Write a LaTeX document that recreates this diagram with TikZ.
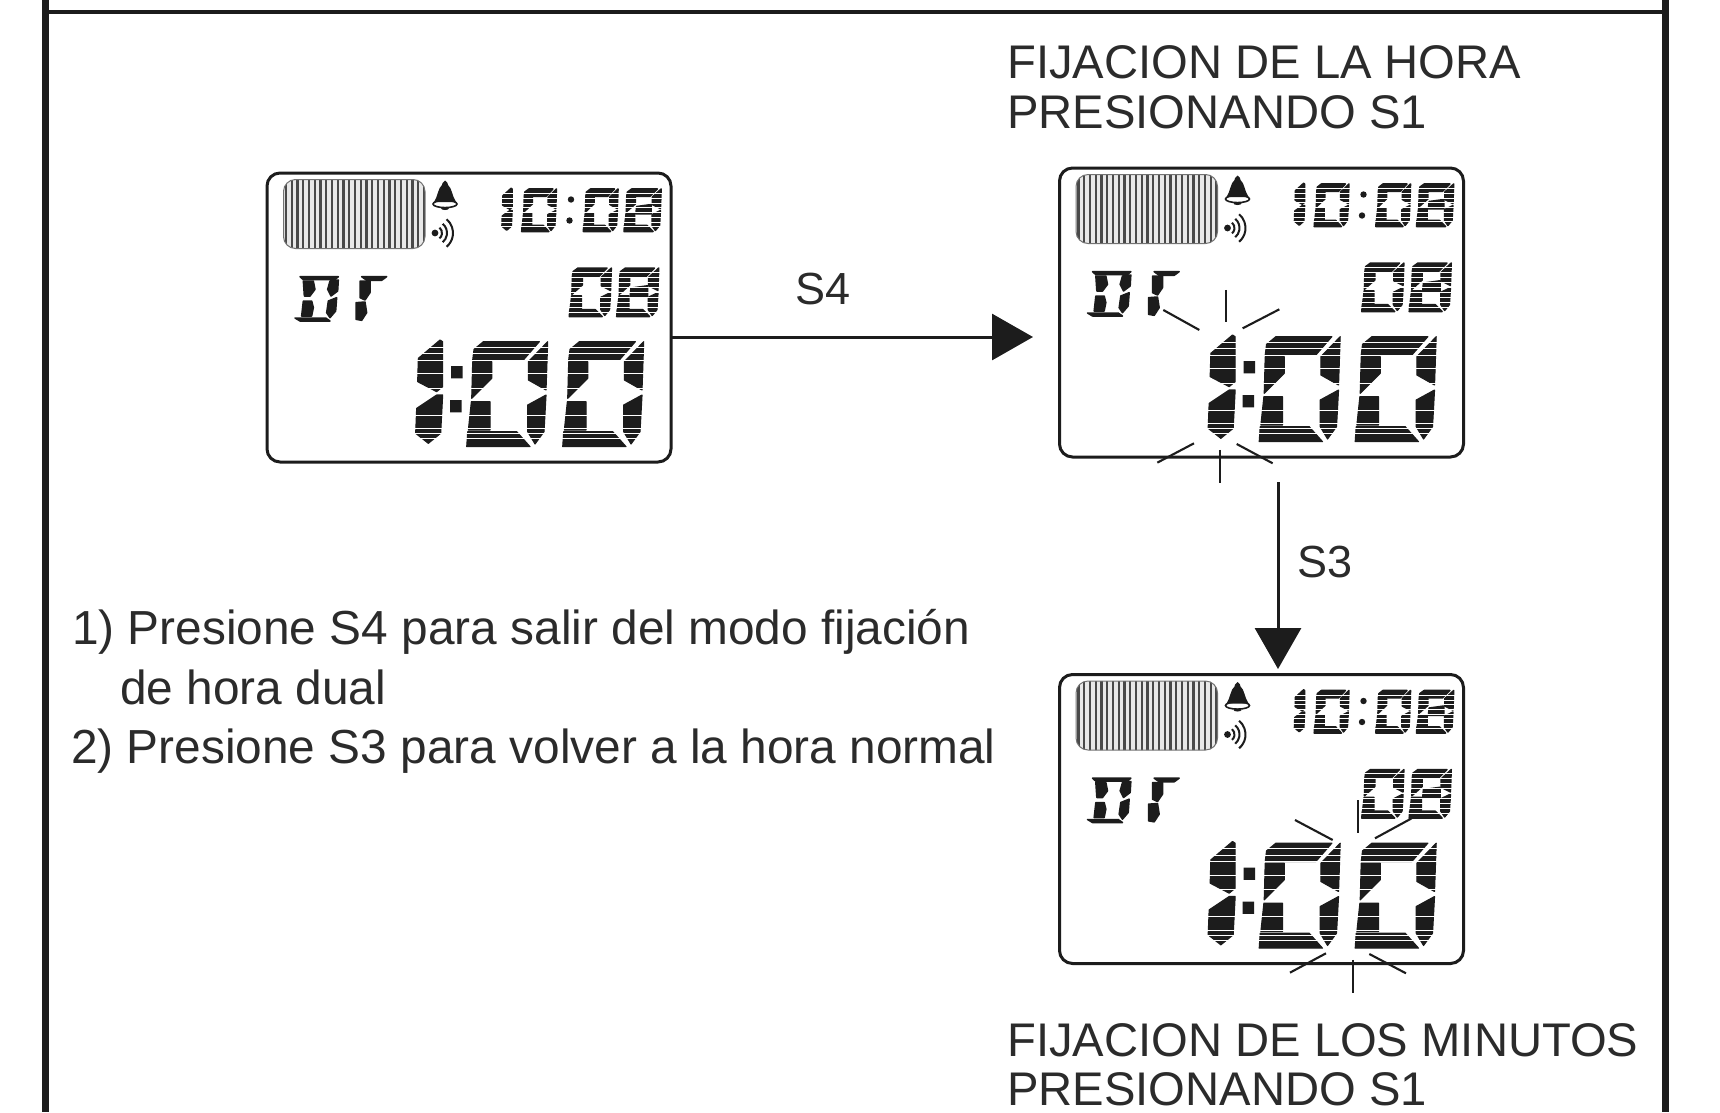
\documentclass[tikz,border=0pt]{standalone}
\usepackage{fontspec}
\setmainfont{Liberation Sans}
\usetikzlibrary{arrows.meta}
\definecolor{ink}{HTML}{1C1C1C}
\definecolor{txt}{HTML}{2B2B2B}
\tikzset{
  lcdframe/.style={draw=ink,line width=3pt,rounded corners=13pt,minimum width=404pt,minimum height=289pt,inner sep=0pt,outer sep=0pt,fill=white},
  caption/.style={anchor=base west,inner sep=0pt,text=txt,font=\fontsize{47.2}{50}\selectfont},
  body/.style={anchor=base west,inner sep=0pt,text=txt,font=\fontsize{47.8}{50}\selectfont},
  keylabel/.style={anchor=base west,inner sep=0pt,text=txt,font=\fontsize{45}{50}\selectfont},
  conn/.style={draw=ink,line width=3pt,-{Triangle[length=41pt,width=46pt]}},
  pulse/.style={draw=ink,line width=2.1pt},
  stripe/.style={draw=white,line width=.8pt},
  seg/.style={fill=ink,draw=ink,line width=1.1pt,line join=round},
  smallseg/.style={seg/.append style={line width=1.5pt}},
  outer/.style={draw=ink,line cap=butt}
}
% digit glyphs drawn on a 245 x 320 grid
\newcommand\dgzero[4]{\begin{scope}[shift={(#1,#2)},xscale=#3,yscale=#4]
\path[seg] (50,5)--(218,5)--(170,60)--(18,60)--(22,28)--cycle;
\path[seg] (18,65)--(75,65)--(75,115)--(15,175)--cycle;
\path[seg] (14,185)--(70,185)--(70,270)--(5,270)--cycle;
\path[seg] (3,275)--(150,275)--(190,320)--(0,320)--cycle;
\path[seg] (243,5)--(238,150)--(185,120)--(185,65)--cycle;
\path[seg] (238,165)--(232,275)--(205,312)--(183,275)--(183,195)--cycle;
\end{scope}}
\newcommand\dgeight[4]{\dgzero{#1}{#2}{#3}{#4}\begin{scope}[shift={(#1,#2)},xscale=#3,yscale=#4]
\path[seg] (82,135)--(178,120)--(178,190)--(78,190)--cycle;
\end{scope}}
\newcommand\dgone[4]{\begin{scope}[shift={(#1,#2)},xscale=#3,yscale=#4]
\path[seg] (75,0)--(83,5)--(83,140)--(65,155)--(8,125)--(10,55)--cycle;
\path[seg] (83,165)--(77,280)--(40,310)--(2,280)--(5,205)--(65,165)--cycle;
\end{scope}}
% everything printed inside a display, relative to its top left corner
\newcommand\lcdface[1]{\begin{scope}[shift={(#1.north west)}]
  % dot matrix
  \begin{scope}
    \clip[rounded corners=12pt] (16.5,6.5) rectangle (158,75.5);
    \fill[gray!18] (16.5,6.5) rectangle (158,75.5);
    \foreach \k in {0,...,24} \draw[ink!80,line width=2.3pt] ({19+\k*5.75},6) -- ({19+\k*5.75},76);
  \end{scope}
  \draw[gray!90!black,line width=1pt,rounded corners=12pt] (16.5,6.5) rectangle (158,75.5);
  % bell
  \fill[ink] (178,7.5) .. controls (180.5,9) and (181,11) .. (181,12) .. controls (185,15) and (185,23) .. (189,29) -- (167,29) .. controls (171,23) and (171,15) .. (175,12) .. controls (175,11) and (175.5,9) .. (178,7.5) -- cycle;
  \draw[ink,line width=1.6pt] (178,31) ellipse (12pt and 3.6pt);
  \fill[ink] (178,35.5) ellipse (4pt and 1.5pt);
  % sound
  \fill[ink] (168,60) circle (3.4pt);
  \foreach \r in {7,12,18} \draw[ink,line width=2pt] ({168+\r*cos(50)},{60-\r*sin(50)}) arc[start angle=50,end angle=-50,radius=\r pt];
  \begin{scope}[smallseg]
  % clock
  \dgone{234.7}{15.3}{.125}{.135}
  \dgzero{254.7}{15.3}{.143}{.135}
  \dgzero{316.3}{15.3}{.143}{.135}
  \dgeight{357}{15.3}{.153}{.135}
  \foreach \k in {1,...,8} \draw[stripe] (233,{16+\k*4.7}) -- (395,{16+\k*4.7});
  \fill[ink] (304,26.5) circle (3.2pt) (302.5,47.5) circle (3.2pt);
  % 08
  \dgzero{302.3}{94.3}{.173}{.154}
  \dgeight{349.7}{94.3}{.173}{.154}
  \foreach \k in {1,...,9} \draw[stripe] (300,{94+\k*5}) -- (394,{94+\k*5});
  % DT
  \begin{scope}[shift={(28,103)},scale=.3333]
    \path[seg] (15,2)--(130,2)--(120,11)--(25,11)--cycle;
    \path[seg] (25,15)--(55,15)--(60,40)--(45,60)--(28,60)--cycle;
    \path[seg] (25,75)--(50,75)--(55,95)--(50,120)--(20,120)--cycle;
    \path[seg] (105,15)--(130,12)--(128,45)--(108,60)--(98,40)--cycle;
    \path[seg] (100,75)--(125,65)--(122,105)--(105,125)--(95,110)--cycle;
    \path[seg] (0,126)--(15,135)--(105,135)--(92,126)--cycle;
  \end{scope}
  \begin{scope}[shift={(88,103)},scale=.3333]
    \path[seg] (20,2)--(95,2)--(80,13)--(35,13)--cycle;
    \path[seg] (15,15)--(45,15)--(45,50)--(30,72)--(15,65)--cycle;
    \path[seg] (3,80)--(30,78)--(35,110)--(20,133)--(3,130)--cycle;
  \end{scope}
  \end{scope}
  % large time
  \dgone{148}{167}{.3333}{.3333}
  \dgzero{199.7}{167}{.3333}{.3333}
  \dgzero{295.7}{167}{.3333}{.3333}
  \foreach \y in {174,180.5,187,200.5,215,242,255.5,260.5,265.5} \draw[stripe] (146,\y) -- (380,\y);
  \fill[ink] (184,193) rectangle (195.5,205.3) (183,227) rectangle (194.5,239.3);
\end{scope}}
\begin{document}
\begin{tikzpicture}[x=1pt,y=-1pt]
\useasboundingbox (0,0) rectangle (1720,1112);
\fill[white] (0,0) rectangle (1720,1112);
% outer frame
\draw[outer,line width=7pt] (45,0) -- (45,1112);
\draw[outer,line width=7pt] (1665,0) -- (1665,1112);
\draw[outer,line width=4pt] (45,12) -- (1665,12);
% displays
\node[lcdframe] (lcdA) at (469,317.5) {};
\node[lcdframe] (lcdB) at (1261.5,312.5) {};
\node[lcdframe] (lcdC) at (1261.5,819) {};
\lcdface{lcdA}
\lcdface{lcdB}
\lcdface{lcdC}
% connectors
\coordinate (tipS) at (1033,337);
\coordinate (startT) at (1278,482);
\coordinate (tipT) at (1278,669);
\draw[conn] ([yshift=-19.5pt]lcdA.east) -- (tipS);
\draw[conn] (startT) -- (tipT);
\node[keylabel] (labS) at (795,304) {S4};
\node[keylabel] (labT) at (1297,577) {S3};
% flashing marks, second display
\begin{scope}[shift={(1040,150)},scale=.3333]
\draw[pulse] (370,480) -- (478,540);
\draw[pulse] (558,420) -- (558,515);
\draw[pulse] (718,478) -- (608,535);
\draw[pulse] (462,880) -- (352,938);
\draw[pulse] (540,900) -- (540,1000);
\draw[pulse] (590,882) -- (698,940);
\end{scope}
% flashing marks, third display
\begin{scope}[shift={(1040,660)},scale=.3333]
\draw[pulse] (765,480) -- (878,540);
\draw[pulse] (955,420) -- (955,518);
\draw[pulse] (1005,535) -- (1115,475);
\draw[pulse] (858,880) -- (750,938);
\draw[pulse] (938,900) -- (938,998);
\draw[pulse] (988,882) -- (1098,940);
\end{scope}
% captions
\node[caption] (capA) at (1007,78) {FIJACION DE LA HORA};
\node[caption] (capB) at (1007,128) {PRESIONANDO S1};
\node[caption] (capC) at (1007,1056) {FIJACION DE LOS MINUTOS};
\node[caption] (capD) at (1007,1105) {PRESIONANDO S1};
% instructions
\node[body] (insA) at (72,644) {1) Presione S4 para salir del modo fijación};
\node[body] (insB) at (120,704) {de hora dual};
\node[body] (insC) at (71,763) {2) Presione S3 para volver a la hora normal};
\end{tikzpicture}
\end{document}
